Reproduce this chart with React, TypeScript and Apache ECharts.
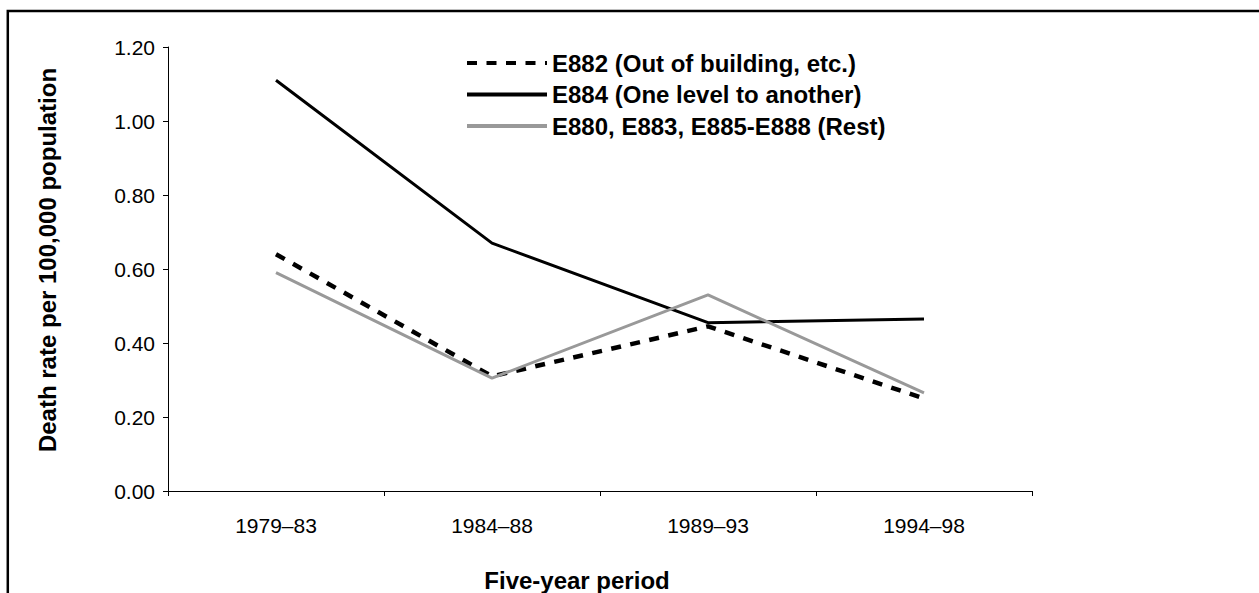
import React, { useEffect, useRef } from "react";
import * as echarts from "echarts";

const categories = ["1979–83", "1984–88", "1989–93", "1994–98"];
const e882 = [0.64, 0.31, 0.445, 0.25];
const e884 = [1.11, 0.67, 0.455, 0.465];
const rest = [0.59, 0.305, 0.53, 0.265];
const seriesNames = [
  "E882 (Out of building, etc.)",
  "E884 (One level to another)",
  "E880, E883, E885-E888 (Rest)",
];
const yTitle = "Death rate per 100,000 population";
const xTitle = "Five-year period";

const FONT = "'Liberation Sans', Arial, Helvetica, sans-serif";

export default function App() {
  const ref = useRef<HTMLDivElement>(null);
  useEffect(() => {
    if (!ref.current) return;
    const chart = echarts.init(ref.current, undefined, { renderer: "svg" });
    chart.setOption({
      animation: false,
      backgroundColor: "#ffffff",
      textStyle: { fontFamily: FONT },
      grid: { left: 168, right: 227, top: 47, bottom: 102, containLabel: false },
      legend: {
        orient: "vertical",
        left: 460,
        top: 46,
        itemWidth: 80,
        itemHeight: 14,
        itemGap: 7.5,
        itemStyle: { opacity: 0 },
        lineStyle: { width: 4 },
        textStyle: { fontFamily: FONT, fontSize: 24, fontWeight: "bold", color: "#000" },
        data: seriesNames,
      },
      xAxis: {
        type: "category",
        data: categories,
        boundaryGap: true,
        axisLine: { show: true, lineStyle: { color: "#000", width: 1 } },
        axisTick: { show: true, inside: false, length: 5, lineStyle: { color: "#000" } },
        axisLabel: { color: "#000", fontSize: 21, fontFamily: FONT, margin: 24 },
        splitLine: { show: false },
      },
      yAxis: {
        type: "value",
        min: 0,
        max: 1.2,
        interval: 0.2,
        axisLine: { show: true, lineStyle: { color: "#000", width: 1 } },
        axisTick: { show: true, inside: false, length: 5, lineStyle: { color: "#000" } },
        axisLabel: {
          color: "#000",
          fontSize: 21,
          fontFamily: FONT,
          margin: 13,
          formatter: (v: number) => v.toFixed(2),
        },
        splitLine: { show: false },
      },
      series: [
        {
          name: seriesNames[0],
          type: "line",
          data: e882,
          symbol: "none",
          lineStyle: { color: "#000", width: 4.5, type: [10, 9.5], cap: "butt" },
          itemStyle: { color: "#000" },
        },
        {
          name: seriesNames[1],
          type: "line",
          data: e884,
          symbol: "none",
          lineStyle: { color: "#000", width: 3 },
          itemStyle: { color: "#000" },
        },
        {
          name: seriesNames[2],
          type: "line",
          data: rest,
          symbol: "none",
          lineStyle: { color: "#999999", width: 3 },
          itemStyle: { color: "#999999" },
        },
      ],
      graphic: [
        {
          type: "rect",
          shape: { x: 7.8, y: 11, width: 2000, height: 2000 },
          style: { fill: "none", stroke: "#000", lineWidth: 2.5 },
          silent: true,
        },
        {
          type: "text",
          x: 47,
          y: 260,
          rotation: Math.PI / 2,
          style: {
            text: yTitle,
            fontFamily: FONT,
            fontSize: 24,
            fontWeight: "bold",
            fill: "#000",
            textAlign: "center",
            textVerticalAlign: "middle",
          },
        },
        {
          type: "text",
          x: 577,
          y: 580,
          style: {
            text: xTitle,
            fontFamily: FONT,
            fontSize: 24,
            fontWeight: "bold",
            fill: "#000",
            textAlign: "center",
            textVerticalAlign: "middle",
          },
        },
      ],
    });
    return () => chart.dispose();
  }, []);
  return <div ref={ref} style={{ width: 1259, height: 593, position: "absolute", left: 0, top: 0 }} />;
}
